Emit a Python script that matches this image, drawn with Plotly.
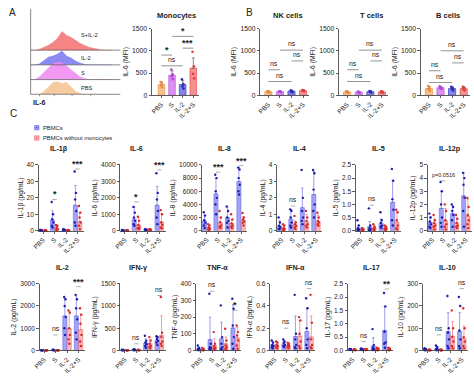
import plotly.graph_objects as go

W, H = 474, 378
GROUPS = ["PBS", "S", "IL-2", "IL-2+S"]

# ---------------- Panel A: IL-6 flow histograms (arbitrary units) ----------------
hist_bins = [0, 5, 10, 15, 20, 25, 30, 35, 40, 45, 50, 55, 60, 65, 70, 75, 80, 85, 90]
hist_pbs = [0, 0, 0, 3, 8, 12, 13, 11, 12, 7, 3, 1, 0, 0, 0, 0, 0, 0, 0]
hist_s = [0, 0, 3, 8, 12, 16, 18, 17, 14, 10, 6, 3, 1, 0, 0, 0, 0, 0, 0]
hist_il2 = [0, 0, 1, 5, 8, 9, 11, 14, 9, 7, 4, 2, 0.5, 0, 0, 0, 0, 0, 0]
hist_il2s = [0, 0, 1, 3, 5, 8, 12, 19, 15, 13, 10, 7, 5, 3, 2, 1, 0, 0, 0]
hist_labels = ["PBS", "S", "IL-2", "S+IL-2"]

# ---------------- Panel A/B: IL-6 MFI ----------------
mono_mean = [240, 450, 240, 610]
mono_sd = [60, 100, 90, 230]
mono_pts = [[300, 260, 220, 180], [580, 470, 420, 360], [360, 250, 200, 150], [980, 650, 480, 380]]
mono_sig = [(0, 1, "*", 904), (0, 2, "ns", 662), (1, 3, "*", 1324), (2, 3, "***", 1059)]

nk_mean = [80, 80, 90, 105]
nk_sd = [15, 10, 20, 15]
nk_pts = [[95, 85, 75, 65], [90, 85, 80, 70], [110, 95, 80, 70], [120, 110, 100, 90]]
nk_sig = [(1, 3, "ns", 1015), (2, 3, "ns", 772), (0, 1, "ns", 574), (0, 2, "ns", 309)]

t_mean = [75, 70, 80, 75]
t_sd = [15, 15, 15, 15]
t_pts = [[90, 80, 70, 60], [85, 75, 65, 55], [95, 85, 75, 65], [90, 80, 70, 60]]
t_sig = [(1, 3, "ns", 1015), (2, 3, "ns", 772), (0, 1, "ns", 574), (0, 2, "ns", 309)]

b_mean = [150, 170, 150, 150]
b_sd = [50, 30, 40, 40]
b_pts = [[210, 160, 130, 100], [200, 180, 160, 140], [190, 160, 140, 110], [190, 170, 130, 110]]
b_sig = [(1, 3, "ns", 1000), (2, 3, "ns", 728), (0, 1, "ns", 551), (0, 2, "ns", 287)]

# ---------------- Panel C: cytokines (pg/mL) ----------------
il1b_pbmc = [0.3, 6.5, 0.5, 15.5]
il1b_pbmc_sd = [0.3, 5.5, 0.4, 12]
il1b_pbmc_pts = [[0.5, 0.3, 0.2, 0.1, 0.4, 0.2], [17.5, 10, 7, 5, 3, 2], [1, 0.6, 0.4, 0.3, 0.2, 0.5], [36, 23, 19, 12, 5, 3]]
il1b_nomono = [0.2, 1.5, 0.3, 5.5]
il1b_nomono_sd = [0.2, 1.5, 0.3, 5.5]
il1b_nomono_pts = [[0.3, 0.2, 0.1, 0.2, 0.1, 0.3], [3.5, 3, 2, 1, 0.6, 0.5], [0.5, 0.4, 0.2, 0.2, 0.3, 0.1], [15, 11, 8, 5, 3, 1]]
il1b_sig = [(1, "*", 19), (3, "***", 37.5)]

il6_pbmc = [20, 700, 60, 1550]
il6_pbmc_sd = [15, 750, 30, 1150]
il6_pbmc_pts = [[40, 25, 15, 10, 20, 10], [1450, 1100, 800, 600, 400, 300], [100, 80, 60, 50, 40, 30], [3500, 2300, 1900, 1200, 800, 400]]
il6_nomono = [15, 350, 60, 530]
il6_nomono_sd = [10, 450, 30, 520]
il6_nomono_pts = [[30, 20, 10, 10, 15, 5], [850, 600, 350, 200, 150, 100], [100, 80, 60, 50, 40, 30], [1250, 1000, 500, 350, 200, 150]]
il6_sig = [(1, "*", 1750), (3, "***", 3700)]

il8_pbmc = [1500, 5600, 2000, 7500]
il8_pbmc_sd = [900, 2400, 1500, 2100]
il8_pbmc_pts = [[2800, 2300, 1600, 1200, 800, 400], [8500, 8000, 6000, 5000, 4000, 2500], [3700, 3000, 2000, 1500, 1200, 500], [9600, 9300, 8000, 7000, 6000, 5500]]
il8_nomono = [500, 1200, 1100, 1600]
il8_nomono_sd = [450, 800, 600, 500]
il8_nomono_pts = [[1000, 800, 500, 300, 200, 100], [3000, 2000, 1300, 800, 600, 400], [2500, 1700, 1100, 800, 600, 400], [2700, 2000, 1700, 1400, 1200, 800]]
il8_sig = [(1, "***", 8900), (3, "***", 9900)]

il4_pbmc = [0.3, 0.7, 1.4, 2.2]
il4_pbmc_sd = [0.3, 0.6, 1.2, 1.4]
il4_pbmc_pts = [[0.8, 0.5, 0.3, 0.2, 0.1, 0.1], [1.3, 1.2, 0.8, 0.5, 0.3, 0.2], [3.7, 2.0, 1.2, 0.8, 0.6, 0.4], [3.7, 3.5, 2.5, 1.6, 1.2, 0.8]]
il4_nomono = [0.15, 0.35, 0.55, 0.55]
il4_nomono_sd = [0.15, 0.25, 0.45, 0.4]
il4_nomono_pts = [[0.4, 0.3, 0.15, 0.1, 0.05, 0.05], [0.9, 0.5, 0.4, 0.3, 0.2, 0.1], [1.2, 0.8, 0.6, 0.4, 0.3, 0.2], [1.1, 0.8, 0.6, 0.5, 0.4, 0.3]]
il4_sig = [(1, "ns", 1.5), (3, "***", 4.1)]

il5_pbmc = [0.1, 0.15, 0.28, 1.08]
il5_pbmc_sd = [0.1, 0.2, 0.17, 0.82]
il5_pbmc_pts = [[0.4, 0.2, 0.1, 0.05, 0.03, 0.02], [0.85, 0.2, 0.1, 0.05, 0.03, 0.02], [0.7, 0.4, 0.3, 0.2, 0.15, 0.1], [2.35, 1.9, 1.2, 0.8, 0.4, 0.2]]
il5_nomono = [0.05, 0.1, 0.1, 0.32]
il5_nomono_sd = [0.05, 0.1, 0.05, 0.38]
il5_nomono_pts = [[0.1, 0.08, 0.05, 0.03, 0.02, 0.01], [0.25, 0.15, 0.1, 0.08, 0.05, 0.02], [0.2, 0.15, 0.1, 0.08, 0.05, 0.02], [0.8, 0.7, 0.4, 0.2, 0.1, 0.05]]
il5_sig = [(1, "ns", 0.97), (3, "**", 2.57)]

il12_pbmc = [0.65, 1.7, 1.3, 2.65]
il12_pbmc_sd = [0.4, 1.3, 0.6, 1.75]
il12_pbmc_pts = [[1.3, 1.0, 0.7, 0.5, 0.3, 0.2], [3.7, 3.0, 2.0, 1.0, 0.6, 0.3], [2.0, 1.8, 1.5, 1.2, 0.8, 0.3], [4.4, 4.0, 3.5, 2.5, 1.5, 0.3]]
il12_nomono = [0.55, 0.75, 0.6, 1.1]
il12_nomono_sd = [0.35, 0.95, 0.4, 1.3]
il12_nomono_pts = [[1.2, 0.8, 0.6, 0.4, 0.3, 0.1], [2.0, 1.5, 0.8, 0.5, 0.3, 0.1], [1.2, 0.9, 0.6, 0.4, 0.3, 0.2], [2.5, 1.8, 1.2, 0.8, 0.5, 0.2]]
il12_sig = [(1, "p=0.0516", 3.8), (3, "**", 5.15)]

il2_pbmc = [10, 20, 1550, 1550]
il2_pbmc_sd = [5, 10, 800, 900]
il2_pbmc_pts = [[15, 10, 5, 5, 10, 8], [30, 20, 15, 10, 20, 25], [2400, 2300, 2000, 1500, 1000, 700], [2500, 2300, 1900, 1400, 800, 500]]
il2_nomono = [10, 10, 980, 930]
il2_nomono_sd = [5, 5, 770, 720]
il2_nomono_pts = [[10, 5, 5, 8, 10, 6], [15, 10, 5, 8, 10, 6], [1800, 1700, 1000, 700, 500, 300], [1900, 1600, 1200, 700, 400, 200]]
il2_sig = [(1, "ns", 700), (3, "***", 2870)]

ifng_pbmc = [10, 15, 170, 230]
ifng_pbmc_sd = [5, 10, 90, 70]
ifng_pbmc_pts = [[15, 10, 5, 10, 5, 8], [25, 20, 15, 10, 10, 5], [330, 220, 180, 140, 100, 60], [320, 300, 260, 220, 180, 120]]
ifng_nomono = [5, 10, 150, 340]
ifng_nomono_sd = [5, 5, 100, 440]
ifng_nomono_pts = [[8, 5, 3, 5, 4, 6], [15, 10, 8, 5, 10, 6], [300, 220, 150, 100, 80, 50], [1200, 400, 300, 200, 150, 100]]
ifng_sig = [(1, "ns", 150), (3, "ns", 1235)]

tnfa_pbmc = [10, 65, 70, 135]
tnfa_pbmc_sd = [10, 135, 100, 140]
tnfa_pbmc_pts = [[30, 15, 10, 5, 3, 2], [340, 40, 20, 15, 10, 5], [270, 80, 40, 20, 10, 5], [310, 250, 150, 80, 40, 10]]
tnfa_nomono = [5, 30, 40, 75]
tnfa_nomono_sd = [5, 40, 40, 65]
tnfa_nomono_pts = [[15, 10, 5, 3, 2, 1], [110, 40, 25, 15, 10, 5], [130, 60, 30, 20, 10, 5], [150, 110, 90, 60, 30, 10]]
tnfa_sig = [(1, "ns", 355), (3, "*", 240)]

ifna_pbmc = [0.05, 0.06, 0.125, 0.17]
ifna_pbmc_sd = [0.03, 0.03, 0.185, 0.21]
ifna_pbmc_pts = [[0.09, 0.07, 0.05, 0.04, 0.03, 0.02], [0.1, 0.08, 0.07, 0.05, 0.04, 0.03], [0.5, 0.15, 0.1, 0.05, 0.03, 0.02], [0.47, 0.38, 0.2, 0.1, 0.05, 0.02]]
ifna_nomono = [0.05, 0.045, 0.13, 0.12]
ifna_nomono_sd = [0.03, 0.025, 0.14, 0.19]
ifna_nomono_pts = [[0.08, 0.07, 0.05, 0.04, 0.03, 0.02], [0.07, 0.06, 0.05, 0.04, 0.03, 0.02], [0.3, 0.27, 0.15, 0.08, 0.04, 0.02], [0.5, 0.25, 0.1, 0.05, 0.03, 0.02]]
ifna_sig = [(1, "ns", 0.2), (3, "ns", 0.556)]

il17_pbmc = [0.04, 0.05, 0.17, 0.75]
il17_pbmc_sd = [0.02, 0.02, 0.31, 0.9]
il17_pbmc_pts = [[0.06, 0.05, 0.04, 0.03, 0.03, 0.02], [0.08, 0.06, 0.05, 0.04, 0.03, 0.02], [0.8, 0.2, 0.1, 0.05, 0.03, 0.02], [2.15, 1.65, 0.7, 0.3, 0.25, 0.1]]
il17_nomono = [0.03, 0.04, 0.05, 0.05]
il17_nomono_sd = [0.02, 0.02, 0.05, 0.05]
il17_nomono_pts = [[0.05, 0.04, 0.03, 0.02, 0.02, 0.01], [0.06, 0.05, 0.04, 0.03, 0.02, 0.02], [0.1, 0.08, 0.05, 0.03, 0.02, 0.01], [0.1, 0.08, 0.05, 0.03, 0.02, 0.01]]
il17_sig = [(1, "ns", 0.33), (3, "**", 2.3)]

il10_pbmc = [5, 8, 85, 85]
il10_pbmc_sd = [3, 10, 85, 85]
il10_pbmc_pts = [[10, 7, 5, 3, 2, 1], [22, 15, 8, 5, 3, 1], [245, 100, 80, 50, 20, 10], [240, 200, 90, 50, 20, 10]]
il10_nomono = [2, 2, 65, 55]
il10_nomono_sd = [2, 2, 65, 55]
il10_nomono_pts = [[5, 3, 2, 1, 1, 1], [5, 3, 2, 1, 1, 1], [180, 100, 60, 40, 20, 10], [190, 100, 60, 40, 20, 10]]
il10_sig = [(1, "ns", 70), (3, "ns", 278)]

# ======================= styling / layout =======================
FONT = "Liberation Sans, Arial, sans-serif"
TXT = "#222222"
AX = "#333333"
BLUE_FILL, BLUE_LINE, BLUE_DOT = "rgba(115,115,240,0.66)", "#5c5ce0", "#1c1cae"
RED_FILL, RED_LINE, RED_DOT = "rgba(246,138,138,0.6)", "#ef5a5a", "#d62a2a"
AB_FILL = ["#f9c08a", "#dc90f2", "#8484ee", "#f49292"]
AB_DOT = ["#e88a3c", "#b347d6", "#2b2bbf", "#e23c3c"]
HIST_COL = ["rgba(246,196,150,0.9)", "rgba(238,135,240,0.85)", "rgba(118,118,240,0.85)", "rgba(243,110,110,0.85)"]
JIT = [-0.07, 0.06, -0.02, 0.08, -0.05, 0.02, 0.0, -0.08]

fig = go.Figure()
layout = {}
shapes, annots = [], []
n_ax = [0]


def fmt(v, dec):
    return f"{v:.{dec}f}" if dec else str(int(round(v)))


def make_axes(x0, x1, ytop, ybot, xr, yr, ytitle=None, ydtick=None, dec=0,
              show=True, tfs=6.6, xtfs=6.5):
    n_ax[0] += 1
    s = "" if n_ax[0] == 1 else str(n_ax[0])
    xd = dict(domain=[x0 / W, x1 / W], range=xr, anchor="y" + s, showgrid=False,
              zeroline=False, fixedrange=True)
    yd = dict(domain=[1 - ybot / H, 1 - ytop / H], range=yr, anchor="x" + s,
              showgrid=False, zeroline=False, fixedrange=True)
    if show:
        xd.update(showline=True, linecolor=AX, linewidth=0.8, ticks="outside",
                  ticklen=2, tickwidth=0.8, tickcolor=AX, tickvals=[0, 1, 2, 3],
                  ticktext=GROUPS, tickangle=-45,
                  tickfont=dict(size=xtfs, color=TXT, family=FONT))
        nt = int(round(yr[1] / ydtick))
        tv = [ydtick * k for k in range(nt + 1)]
        yd.update(showline=True, linecolor=AX, linewidth=0.8, ticks="outside",
                  ticklen=2.5, tickwidth=0.8, tickcolor=AX, tickvals=tv,
                  ticktext=[fmt(v, dec) for v in tv],
                  tickfont=dict(size=tfs, color=TXT, family=FONT))
        if ytitle:
            yd["title"] = dict(text=ytitle, standoff=2,
                               font=dict(size=6.8, color=TXT, family=FONT))
    else:
        xd.update(visible=False)
        yd.update(visible=False)
    layout["xaxis" + s] = xd
    layout["yaxis" + s] = yd
    return "x" + s, "y" + s


def text(x, y, t, size=7, bold=False, xanchor="center", yanchor="middle",
         xref="paper", yref="paper", yshift=0, color=TXT):
    if xref == "paper":
        x = x / W
    if yref == "paper":
        y = 1 - y / H
    annots.append(dict(x=x, y=y, xref=xref, yref=yref, text=f"<b>{t}</b>" if bold else t,
                       showarrow=False, xanchor=xanchor, yanchor=yanchor, yshift=yshift,
                       font=dict(size=size, color=color, family=FONT)))


def sig_font(lbl):
    if "*" in lbl:
        return 9, True, -3
    if lbl.startswith("p="):
        return 5.5, False, 0
    return 6.8, False, 0


# ---------------- Panel A: histograms ----------------
hx, hy = make_axes(24, 115, 5, 92, [0, 100], [0, 87], show=False)
row_base = [0, 15, 30, 45]
hist_sets = [hist_pbs, hist_s, hist_il2, hist_il2s]
for k in [3, 2, 1, 0]:
    base = row_base[k]
    fig.add_trace(go.Scatter(
        x=[hist_bins[0]] + hist_bins + [hist_bins[-1]],
        y=[base] + [base + v for v in hist_sets[k]] + [base],
        mode="lines", fill="toself", fillcolor=HIST_COL[k],
        line=dict(width=0.5, color=HIST_COL[k]), xaxis=hx, yaxis=hy, hoverinfo="skip"))
for ypx in [47, 62, 77]:
    shapes.append(dict(type="line", xref="paper", yref="paper", x0=24 / W, x1=115 / W,
                       y0=1 - ypx / H, y1=1 - ypx / H, line=dict(color="#555", width=0.7),
                       layer="above"))
shapes.append(dict(type="line", xref="paper", yref="paper", x0=24 / W, x1=24 / W,
                   y0=1 - 92 / H, y1=1 - 5 / H, line=dict(color="#555", width=0.7)))
shapes.append(dict(type="line", xref="paper", yref="paper", x0=24 / W, x1=115 / W,
                   y0=1 - 92 / H, y1=1 - 92 / H, line=dict(color="#555", width=0.7)))
for xt in [33, 48, 66, 85]:
    shapes.append(dict(type="line", xref="paper", yref="paper", x0=xt / W, x1=xt / W,
                       y0=1 - 92 / H, y1=1 - 94 / H, line=dict(color="#555", width=0.6)))
for lbl, ypx in zip(["S+IL-2", "IL-2", "S", "PBS"], [32, 55, 70, 86]):
    text(73, ypx, lbl, size=5.6, xanchor="left")
text(24, 100, "IL-6", size=7, bold=True, xanchor="left")
text(0, 9, "A", size=10, xanchor="left")
text(241, 9, "B", size=10, xanchor="left")
text(1, 112, "C", size=10, xanchor="left")

# ---------------- Panel A/B: MFI bar charts ----------------
ab_panels = [
    ("Monocytes", 147, 195, [-0.9, 3.55], 172, mono_mean, mono_sd, mono_pts, mono_sig),
    ("NK cells", 257, 307, [-0.7, 3.55], 285, nk_mean, nk_sd, nk_pts, nk_sig),
    ("T cells", 337, 387, [-0.7, 3.55], 370, t_mean, t_sd, t_pts, t_sig),
    ("B cells", 420, 470, [-0.7, 3.55], 448, b_mean, b_sd, b_pts, b_sig),
]
for title, x0, x1, xr, tcx, mean, sd, pts, sig in ab_panels:
    xa, ya = make_axes(x0, x1, 25, 93, xr, [0, 1500], ytitle="IL-6 (MFI)", ydtick=500,
                       tfs=6.8, xtfs=6.6)
    fig.add_trace(go.Bar(
        x=[0, 1, 2, 3], y=mean, width=0.62, xaxis=xa, yaxis=ya,
        marker=dict(color=AB_FILL, line=dict(color=AB_DOT, width=0.6)),
        error_y=dict(type="data", array=sd, arrayminus=[0] * 4, symmetric=False,
                     thickness=0.7, width=1.5, color="#555")))
    for g in range(4):
        fig.add_trace(go.Scatter(
            x=[g + JIT[k] for k in range(len(pts[g]))], y=pts[g], mode="markers",
            marker=dict(size=2.6, color=AB_DOT[g]), xaxis=xa, yaxis=ya, cliponaxis=False))
    text(tcx, 12, title, size=7.5, bold=True)
    for i, j, lbl, yv in sig:
        shapes.append(dict(type="line", xref=xa, yref=ya, x0=i, x1=j, y0=yv, y1=yv,
                           line=dict(color="#666", width=0.7)))
        fs, bd, ysh = sig_font(lbl)
        text((i + j) / 2, yv, lbl, size=fs, bold=bd, xref=xa, yref=ya,
             yanchor="bottom", yshift=ysh + 1)

# ---------------- Panel C legend ----------------
for ypx, fillc, linec, dotc, lbl in [(126, BLUE_FILL, BLUE_LINE, BLUE_DOT, "PBMCs"),
                                     (136.5, RED_FILL, RED_LINE, RED_DOT, "PBMCs without monocytes")]:
    shapes.append(dict(type="rect", xref="paper", yref="paper", x0=28 / W, x1=32.5 / W,
                       y0=1 - (ypx + 2.2) / H, y1=1 - (ypx - 2.2) / H,
                       fillcolor=fillc, line=dict(color=linec, width=0.6)))
    shapes.append(dict(type="circle", xref="paper", yref="paper", x0=29.6 / W, x1=30.9 / W,
                       y0=1 - (ypx + 0.65) / H, y1=1 - (ypx - 0.65) / H,
                       fillcolor=dotc, line=dict(width=0)))
    text(35, ypx, lbl, size=5.8, xanchor="left")

# ---------------- Panel C cytokine charts ----------------
c_panels = [
    ("IL-1β", 32, 53, 1, 40, 10, 0, il1b_pbmc, il1b_pbmc_sd, il1b_pbmc_pts, il1b_nomono, il1b_nomono_sd, il1b_nomono_pts, il1b_sig),
    ("IL-6", 115, 131, 1, 4000, 1000, 0, il6_pbmc, il6_pbmc_sd, il6_pbmc_pts, il6_nomono, il6_nomono_sd, il6_nomono_pts, il6_sig),
    ("IL-8", 198, 221, 1, 10000, 2000, 0, il8_pbmc, il8_pbmc_sd, il8_pbmc_pts, il8_nomono, il8_nomono_sd, il8_nomono_pts, il8_sig),
    ("IL-4", 274, 297, 1, 4, 1, 0, il4_pbmc, il4_pbmc_sd, il4_pbmc_pts, il4_nomono, il4_nomono_sd, il4_nomono_pts, il4_sig),
    ("IL-5", 354, 377, 1, 2.5, 0.5, 1, il5_pbmc, il5_pbmc_sd, il5_pbmc_pts, il5_nomono, il5_nomono_sd, il5_nomono_pts, il5_sig),
    ("IL-12p", 427, 450, 1, 5, 1, 0, il12_pbmc, il12_pbmc_sd, il12_pbmc_pts, il12_nomono, il12_nomono_sd, il12_nomono_pts, il12_sig),
    ("IL-2", 33, 56, 2, 3000, 1000, 0, il2_pbmc, il2_pbmc_sd, il2_pbmc_pts, il2_nomono, il2_nomono_sd, il2_nomono_pts, il2_sig),
    ("IFN-γ", 115, 133, 2, 1500, 500, 0, ifng_pbmc, ifng_pbmc_sd, ifng_pbmc_pts, ifng_nomono, ifng_nomono_sd, ifng_nomono_pts, ifng_sig),
    ("TNF-α", 192, 214, 2, 400, 100, 0, tnfa_pbmc, tnfa_pbmc_sd, tnfa_pbmc_pts, tnfa_nomono, tnfa_nomono_sd, tnfa_nomono_pts, tnfa_sig),
    ("IFN-α", 267, 293, 2, 0.6, 0.2, 1, ifna_pbmc, ifna_pbmc_sd, ifna_pbmc_pts, ifna_nomono, ifna_nomono_sd, ifna_nomono_pts, ifna_sig),
    ("IL-17", 346, 370, 2, 2.5, 0.5, 1, il17_pbmc, il17_pbmc_sd, il17_pbmc_pts, il17_nomono, il17_nomono_sd, il17_nomono_pts, il17_sig),
    ("IL-10", 422, 447, 2, 300, 100, 0, il10_pbmc, il10_pbmc_sd, il10_pbmc_pts, il10_nomono, il10_nomono_sd, il10_nomono_pts, il10_sig),
]
ROW = {1: (164, 231, 147), 2: (285, 353, 268)}
OFF = 0.19
for (title, ax_px, tcx, row, ymax, dt, dec, bm, bsd, bpts, rm, rsd, rpts, sig) in c_panels:
    ytop, ybot, ty = ROW[row]
    xa, ya = make_axes(ax_px, min(ax_px + 46, 472), ytop, ybot, [-0.4, 3.55], [0, ymax],
                       ytitle=f"{title} (pg/mL)", ydtick=dt, dec=dec, xtfs=6.5)
    for sign, mean, sd, pts, fc, lc, dc in [(-1, bm, bsd, bpts, BLUE_FILL, BLUE_LINE, BLUE_DOT),
                                             (1, rm, rsd, rpts, RED_FILL, RED_LINE, RED_DOT)]:
        xs = [g + sign * OFF for g in range(4)]
        fig.add_trace(go.Bar(
            x=xs, y=mean, width=0.36, xaxis=xa, yaxis=ya,
            marker=dict(color=fc, line=dict(color=lc, width=0.5)),
            error_y=dict(type="data", array=sd, arrayminus=[0] * 4, symmetric=False,
                         thickness=0.6, width=1.2, color=lc)))
        px_, py_ = [], []
        for g in range(4):
            for k, v in enumerate(pts[g]):
                px_.append(g + sign * OFF + JIT[k] * 0.9)
                py_.append(v)
        fig.add_trace(go.Scatter(x=px_, y=py_, mode="markers", xaxis=xa, yaxis=ya,
                                 marker=dict(size=2.4, color=dc), cliponaxis=False))
    text(tcx, ty, title, size=7.2, bold=True)
    for g, lbl, yv in sig:
        shapes.append(dict(type="line", xref=xa, yref=ya, x0=g - OFF, x1=g + OFF,
                           y0=yv, y1=yv, line=dict(color="#777", width=0.6)))
        fs, bd, ysh = sig_font(lbl)
        text(g, yv, lbl, size=fs, bold=bd, xref=xa, yref=ya, yanchor="bottom",
             yshift=ysh + 1)

layout.update(dict(width=W, height=H, margin=dict(l=0, r=0, t=0, b=0),
                   paper_bgcolor="white", plot_bgcolor="white", showlegend=False,
                   barmode="overlay", shapes=shapes, annotations=annots,
                   hovermode=False, font=dict(family=FONT, color=TXT)))
fig.update_layout(**layout)
fig.write_html("out.html", config={"displayModeBar": False, "staticPlot": True},
               post_script="document.body.style.margin='0';document.body.style.overflow='hidden';")
